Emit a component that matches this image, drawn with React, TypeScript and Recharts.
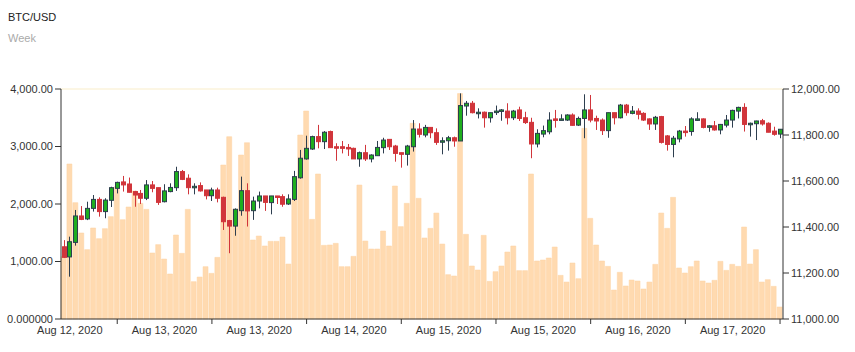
import { ComposedChart, Bar, XAxis, YAxis, ReferenceLine } from "recharts";

const OPEN = [
  11314, 11270, 11333, 11448, 11435, 11481, 11520, 11467, 11516, 11568,
  11596, 11587, 11554, 11546, 11525, 11583, 11571, 11510, 11554, 11571,
  11641, 11612, 11574, 11580, 11561, 11536, 11561, 11529, 11428, 11404,
  11471, 11558, 11471, 11513, 11535, 11506, 11535, 11532, 11500, 11520,
  11614, 11696, 11739, 11793, 11771, 11815, 11749, 11749, 11746, 11742,
  11696, 11723, 11696, 11710, 11745, 11781, 11752, 11723, 11716, 11749,
  11826, 11800, 11833, 11810, 11772, 11775, 11788, 11774, 11926, 11938,
  11896, 11899, 11875, 11899, 11904, 11904, 11875, 11909, 11875, 11855,
  11761, 11804, 11814, 11870, 11865, 11865, 11887, 11843, 11872, 11909,
  11872, 11865, 11819, 11897, 11875, 11930, 11894, 11904, 11894, 11870,
  11848, 11880, 11796, 11759, 11783, 11817, 11815, 11865, 11870, 11836,
  11840, 11822, 11843, 11865, 11904, 11920, 11846, 11849, 11862, 11851,
  11817, 11804,
];

const HIGH = [
  11343, 11358, 11474, 11491, 11510, 11539, 11529, 11525, 11575, 11597,
  11622, 11615, 11557, 11561, 11604, 11600, 11571, 11586, 11590, 11662,
  11648, 11629, 11590, 11594, 11561, 11571, 11571, 11532, 11431, 11481,
  11619, 11590, 11532, 11554, 11535, 11535, 11535, 11542, 11542, 11644,
  11735, 11797, 11797, 11844, 11817, 11819, 11764, 11774, 11761, 11745,
  11728, 11757, 11716, 11774, 11788, 11781, 11757, 11723, 11757, 11865,
  11851, 11844, 11833, 11829, 11790, 11796, 11793, 11981, 11948, 11948,
  11916, 11902, 11897, 11928, 11913, 11938, 11909, 11923, 11901, 11875,
  11825, 11841, 11899, 11909, 11890, 11890, 11894, 11880, 11977, 11974,
  11884, 11872, 11897, 11897, 11935, 11935, 11926, 11916, 11899, 11872,
  11883, 11883, 11800, 11796, 11822, 11839, 11877, 11899, 11872, 11843,
  11861, 11848, 11887, 11910, 11923, 11938, 11854, 11862, 11870, 11855,
  11836, 11825,
];

const LOW = [
  11265, 11184, 11319, 11430, 11430, 11467, 11445, 11438, 11487, 11546,
  11554, 11550, 11488, 11500, 11517, 11551, 11496, 11507, 11551, 11557,
  11604, 11542, 11542, 11554, 11520, 11513, 11507, 11387, 11286, 11362,
  11449, 11402, 11431, 11481, 11470, 11455, 11500, 11488, 11496, 11513,
  11610, 11693, 11735, 11742, 11739, 11745, 11688, 11720, 11709, 11696,
  11662, 11687, 11681, 11710, 11720, 11735, 11684, 11658, 11667, 11728,
  11789, 11790, 11786, 11757, 11716, 11732, 11749, 11774, 11884, 11894,
  11872, 11832, 11854, 11887, 11862, 11846, 11865, 11861, 11848, 11699,
  11746, 11790, 11803, 11832, 11864, 11861, 11841, 11839, 11786, 11855,
  11822, 11800, 11788, 11846, 11872, 11884, 11890, 11868, 11861, 11822,
  11822, 11763, 11732, 11703, 11768, 11793, 11797, 11861, 11829, 11814,
  11819, 11803, 11833, 11832, 11872, 11815, 11793, 11778, 11841, 11812,
  11797, 11786,
];

const CLOSE = [
  11268, 11336, 11448, 11433, 11481, 11520, 11467, 11517, 11571, 11594,
  11583, 11551, 11539, 11525, 11583, 11568, 11507, 11557, 11572, 11641,
  11607, 11571, 11577, 11557, 11536, 11561, 11525, 11423, 11404, 11477,
  11558, 11470, 11513, 11535, 11507, 11535, 11531, 11499, 11522, 11619,
  11699, 11742, 11793, 11771, 11812, 11745, 11745, 11742, 11742, 11696,
  11723, 11696, 11713, 11746, 11778, 11749, 11720, 11716, 11752, 11826,
  11803, 11833, 11810, 11768, 11775, 11788, 11774, 11928, 11938, 11897,
  11899, 11875, 11897, 11904, 11909, 11875, 11904, 11872, 11854, 11761,
  11807, 11819, 11865, 11864, 11870, 11887, 11842, 11872, 11909, 11865,
  11861, 11819, 11897, 11875, 11930, 11897, 11904, 11890, 11865, 11848,
  11877, 11768, 11759, 11786, 11817, 11813, 11870, 11870, 11833, 11840,
  11822, 11846, 11865, 11907, 11920, 11846, 11851, 11861, 11848, 11812,
  11803, 11825,
];

const VOLUME = [
  1084, 2696, 2023, 1496, 1206, 1583, 1397, 1571, 1780, 2301,
  1727, 1948, 2226, 2012, 1907, 1148, 1293, 1043, 783, 1461,
  1142, 1907, 649, 730, 910, 794, 1072, 2678, 3171, 1907,
  2852, 3066, 1374, 1443, 1270, 1351, 1351, 1426, 956, 2069,
  3200, 3617, 1733, 2522, 1281, 1287, 1316, 910, 910, 1090,
  2330, 1356, 1217, 1217, 1530, 1270, 2313, 1606, 2012, 3403,
  2099, 1409, 1577, 1843, 1304, 771, 748, 3920, 1473, 922,
  852, 1455, 655, 823, 922, 1165, 1270, 841, 841, 2522,
  1009, 1026, 1061, 1252, 759, 643, 974, 701, 3316, 1751,
  1287, 1009, 916, 504, 812, 574, 678, 661, 522, 643,
  951, 1843, 1577, 2116, 887, 800, 910, 1009, 661, 626,
  673, 1003, 846, 951, 916, 1600, 956, 1206, 643, 684,
  568, 209,
];

// x-axis labels sit half a tick-interval to the left of each tick
const TICK_INDEX = [9, 25, 41, 57, 73, 89, 105, 121];
const TICK_LABELS = [
  "Aug 12, 2020", "Aug 13, 2020", "Aug 13, 2020", "Aug 14, 2020",
  "Aug 15, 2020", "Aug 15, 2020", "Aug 16, 2020", "Aug 17, 2020",
];

const VOL_TICKS = [0, 1000, 2000, 3000, 4000];
const PRICE_TICKS = [11000, 11200, 11400, 11600, 11800, 12000];

const data = OPEN.map((o, i) => ({
  t: i,
  open: o,
  high: HIGH[i],
  low: LOW[i],
  close: CLOSE[i],
  volume: VOLUME[i],
}));

const FONT = "'Liberation Sans', Arial, sans-serif";
const UP = "#1fae1f";
const DOWN = "#d1353b";
const OUTLINE = "#2d3e4f";

const fmt = (v: number) =>
  v.toLocaleString("en-US", { minimumFractionDigits: 2, maximumFractionDigits: 2 });

const Candle = (props: any) => {
  const { x, y, width, height, payload } = props;
  const { open, close, high, low } = payload;
  const h = Math.abs(height);
  const top = height < 0 ? y + height : y;
  const per = high - low > 0 ? h / (high - low) : 0;
  const yOf = (v: number) => top + (high - v) * per;
  const cx = Math.round(x + width / 2) + 0.5;
  const up = close >= open;
  const bTop = yOf(Math.max(open, close));
  const bH = Math.max(1.5, Math.abs(yOf(open) - yOf(close)));
  return (
    <g>
      <line x1={cx} x2={cx} y1={top} y2={top + h} stroke={up ? OUTLINE : DOWN} strokeWidth={1} />
      <rect
        x={cx - 2}
        y={bTop}
        width={4}
        height={bH}
        fill={up ? UP : DOWN}
        stroke={up ? OUTLINE : DOWN}
        strokeWidth={1}
      />
    </g>
  );
};

const XTick = (props: any) => {
  const { x, y, payload } = props;
  const k = TICK_INDEX.indexOf(payload.index);
  if (k < 0) return null;
  const step = 47.4;
  return (
    <g>
      <line x1={x} x2={x} y1={y} y2={y + 5} stroke="#333" />
      <text x={x - step} y={y + 15} textAnchor="middle" fill="#333" fontSize={11} fontFamily={FONT}>
        {TICK_LABELS[k]}
      </text>
    </g>
  );
};

export default function App() {
  return (
    <div style={{ position: "absolute", left: 0, top: 0, width: 855, height: 352, background: "#fff", fontFamily: FONT }}>
      <div style={{ position: "absolute", left: 8, top: 11, fontSize: 11, color: "#222" }}>BTC/USD</div>
      <div style={{ position: "absolute", left: 8, top: 32, fontSize: 11, color: "#aaa" }}>Week</div>
      <ComposedChart
        width={855}
        height={352}
        data={data}
        margin={{ top: 89, right: 0, bottom: 0, left: 0 }}
        barCategoryGap={0}
        barGap={0}
      >
        <XAxis
          dataKey="t"
          type="category"
          interval={0}
          height={33}
          tickLine={false}
          tickSize={0}
          tickMargin={0}
          axisLine={{ stroke: "#333" }}
          tick={<XTick />}
        />
        <XAxis dataKey="t" type="category" xAxisId="c" hide />
        <YAxis
          yAxisId="left"
          orientation="left"
          width={61}
          domain={[0, 4000]}
          ticks={VOL_TICKS}
          tickFormatter={(v: number) => (v === 0 ? "0.000000" : fmt(v))}
          axisLine={{ stroke: "#333" }}
          tickLine={{ stroke: "#333" }}
          tick={{ fill: "#333", fontSize: 11, fontFamily: FONT }}
        />
        <YAxis
          yAxisId="right"
          orientation="right"
          width={72}
          domain={[11000, 12000]}
          ticks={PRICE_TICKS}
          tickFormatter={fmt}
          axisLine={{ stroke: "#333" }}
          tickLine={{ stroke: "#333" }}
          tick={{ fill: "#333", fontSize: 11, fontFamily: FONT }}
        />
        <ReferenceLine yAxisId="left" y={4000} stroke="#fcf6e4" strokeWidth={2} />
        <Bar
          yAxisId="left"
          dataKey="volume"
          fill="#ffdab0"
          stroke="#fcd3a2"
          strokeWidth={0.5}
          barSize={5}
          isAnimationActive={false}
        />
        <Bar
          yAxisId="right"
          xAxisId="c"
          dataKey={(d: any) => [d.low, d.high]}
          barSize={5}
          shape={<Candle />}
          isAnimationActive={false}
        />
      </ComposedChart>
    </div>
  );
}
